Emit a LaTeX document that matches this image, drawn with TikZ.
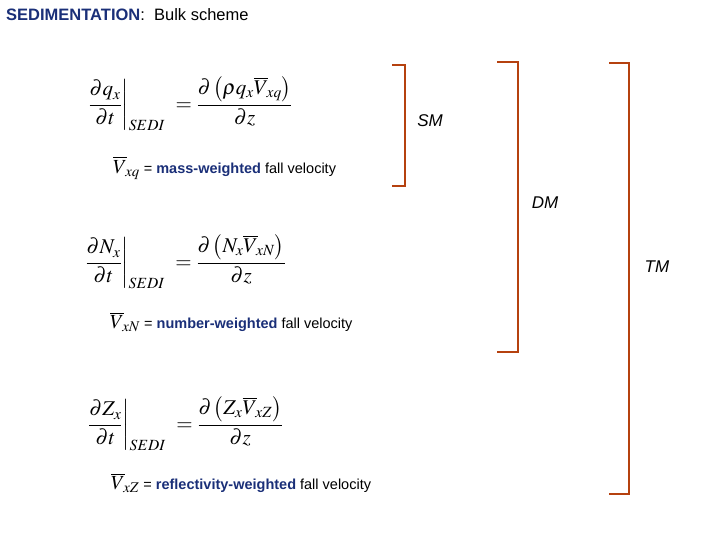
\documentclass[tikz,border=0pt]{standalone}
\usepackage{fontspec}
\usepackage{amsmath}
\usepackage{mathptmx}
\setmainfont{Liberation Sans}
\definecolor{tblue}{HTML}{1A2F78}
\definecolor{brk}{HTML}{B5410F}
\begin{document}
\begin{tikzpicture}[x=1pt,y=-1pt,
  eq/.style={inner sep=0pt,font=\fontsize{21}{24}\selectfont},
  vel/.style={inner sep=0pt,anchor=west,font=\fontsize{14.5}{16}\selectfont},
  vv/.style={font=\fontsize{20}{20}\selectfont},
  lab/.style={font=\fontsize{17}{19}\selectfont\itshape},
  brkt/.style={draw=brk,line width=2.5pt}]
\useasboundingbox (0,0) rectangle (720,540);
\node[anchor=west,inner sep=0pt,font=\fontsize{16.5}{18}\selectfont] (title) at (6,15) {\textcolor{tblue}{\textbf{SEDIMENTATION}}:\ \ Bulk scheme};
\node[eq] (e1) at (190,104) {$\left.\dfrac{\partial q_x}{\partial t}\right|_{SEDI}\ =\dfrac{\partial\left(\rho q_x\overline{V}_{\!xq}\right)}{\partial z}$};
\node[vel] (v1) at (113,168) {{\fontsize{20}{20}\selectfont$\overline{V}_{\!xq}$} = \textcolor{tblue}{\textbf{mass-weighted}} fall velocity};
\node[eq] (e2) at (185,262) {$\left.\dfrac{\partial N_x}{\partial t}\right|_{SEDI}\ =\dfrac{\partial\left(N_x\overline{V}_{\!xN}\right)}{\partial z}$};
\node[vel] (v2) at (110,322) {{\fontsize{20}{20}\selectfont$\overline{V}_{\!xN}$} = \textcolor{tblue}{\textbf{number-weighted}} fall velocity};
\node[eq] (e3) at (185,424) {$\left.\dfrac{\partial Z_x}{\partial t}\right|_{SEDI}\ =\dfrac{\partial\left(Z_x\overline{V}_{\!xZ}\right)}{\partial z}$};
\node[vel] (v3) at (111,483) {{\fontsize{20}{20}\selectfont$\overline{V}_{\!xZ}$} = \textcolor{tblue}{\textbf{reflectivity-weighted}} fall velocity};
\draw[brkt] (392,65) -- (405,65) -- (405,186) -- (392,186);
\draw[brkt] (497,62) -- (518,62) -- (518,352) -- (497,352);
\draw[brkt] (609,63) -- (629,63) -- (629,494) -- (609,494);
\node[lab] (sm) at (430,121) {SM};
\node[lab] (dm) at (545,203) {DM};
\node[lab] (tm) at (657,267) {TM};
\end{tikzpicture}
\end{document}
